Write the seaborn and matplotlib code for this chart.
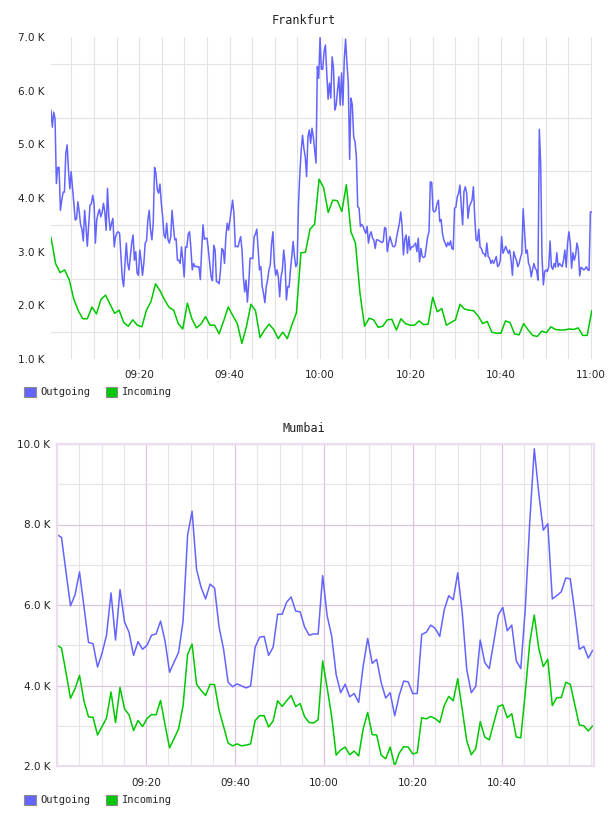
import numpy as np
import pandas as pd
import matplotlib
matplotlib.use("Agg")
import matplotlib.pyplot as plt
import matplotlib.dates as mdates
from matplotlib.patches import Patch
from matplotlib.ticker import MultipleLocator, FuncFormatter, FixedLocator
import seaborn as sns

sns.set_theme(style="white")
plt.rcParams['font.family'] = ['DejaVu Sans']

DAY = "2013-05-14"
series_names = ["Outgoing", "Incoming"]

# ---------------- Frankfurt (values in thousands) ----------------
fra_outgoing = [
    5.64, 5.32, 5.60, 5.48, 4.27, 4.57, 4.57, 3.77,
    3.96, 4.11, 4.11, 4.83,
    4.99, 4.52, 4.17, 4.49, 4.18, 3.90, 3.59, 3.61, 3.93, 3.74, 3.50, 3.42, 3.20, 3.77, 3.47, 3.10,
    3.50, 3.87, 3.89, 4.05, 3.90, 3.16, 3.59, 3.71, 3.79, 3.65, 3.73, 3.90, 3.74, 3.40, 4.18, 3.65,
    3.40, 3.53, 3.62, 3.09, 3.28, 3.35, 3.37, 3.34, 2.91, 2.50, 2.35, 2.78, 3.16, 2.78, 2.66, 2.91,
    3.16, 3.31, 2.84, 3.00, 2.60, 2.56, 3.03, 2.84, 2.56, 2.78, 3.16, 3.20, 3.59, 3.77, 3.40, 3.22,
    3.53, 4.57, 4.46, 4.15, 4.09, 4.26, 3.90, 3.65, 3.31, 3.25, 3.53, 3.22, 3.16, 3.28, 3.77, 3.47,
    3.22, 3.24, 2.84, 2.84, 2.78, 3.09, 2.84, 2.53, 3.09, 3.08, 3.33, 3.37, 3.06, 2.66, 2.78, 2.72,
    2.73, 2.71, 2.72, 2.48, 3.03, 3.50, 3.23, 3.25, 3.25, 3.03, 2.78, 2.53, 2.46, 3.12, 3.03, 2.44,
    2.44, 2.40, 2.66, 3.06, 3.03, 2.78, 3.28, 3.53, 3.40, 3.59, 3.77, 3.96, 3.71, 3.09, 3.10, 3.09,
    3.19, 3.28, 3.03, 2.53, 2.25, 2.47, 2.06, 2.41, 2.88, 2.88, 2.87, 3.28, 3.33, 3.42, 3.03, 2.66,
    2.72, 2.35, 2.22, 2.05, 2.35, 2.47, 2.66, 2.75, 3.16, 3.37, 2.78, 2.56, 2.66, 2.53, 2.16, 2.53,
    2.66, 3.03, 2.78, 2.10, 2.35, 2.34, 2.66, 2.91, 3.19, 2.91, 2.72, 2.78, 3.90, 4.46, 4.89, 5.17,
    4.92, 4.77, 4.40, 5.14, 5.27, 5.02, 5.30, 5.14, 4.89, 4.65,
    6.45, 6.23, 6.99, 6.40, 6.40, 6.73, 6.85, 6.32, 5.84, 6.14, 5.86, 6.63, 6.42, 5.64, 5.73, 6.01,
    6.26, 5.73, 6.33, 5.73, 6.57, 6.96, 6.51, 6.14, 4.72, 5.86, 5.73, 5.14, 5.05, 4.77, 3.84, 3.81,
    3.47, 3.51, 3.47,
    3.40, 3.34, 3.47, 3.16, 3.31, 3.37, 3.25, 3.22, 3.06, 3.22, 3.22, 3.20, 3.19, 3.17, 3.19, 3.45,
    3.43, 3.00, 3.16, 3.28, 3.19, 3.10, 3.09, 3.12, 3.28, 3.40, 3.53, 3.74, 3.47, 2.94, 3.23, 3.31,
    2.97, 3.28, 3.03, 3.09, 3.09, 3.12, 3.16, 3.00, 3.25, 2.81, 3.06, 2.91, 2.89, 2.91, 3.09, 3.28,
    3.37, 4.30, 4.29, 3.77, 3.74, 3.77, 3.90, 3.96, 3.56, 3.60, 3.34, 3.22, 3.16, 3.09, 3.17, 3.12,
    3.20, 3.06, 3.04, 3.81, 3.83, 4.02, 4.09, 4.24, 3.84, 3.50, 4.12, 4.21, 4.09, 3.62, 3.84, 3.90,
    3.96, 4.21, 3.65, 3.22, 3.20, 3.42, 3.08, 3.06, 2.97, 2.96, 2.91, 3.16, 2.91, 2.88, 2.78, 2.84,
    2.78, 2.84, 2.91, 2.72, 2.75, 2.84, 3.28, 2.97, 3.03, 3.10, 3.03, 2.97, 3.03, 2.84, 2.56, 3.00,
    2.91, 2.84, 2.72, 2.78, 2.89, 2.97, 3.80, 3.40, 2.97, 3.03, 2.78, 2.72, 2.53, 2.67, 2.78, 2.69,
    2.65,
    2.47, 5.28, 4.65, 2.91, 2.38, 2.63, 2.66, 2.63, 2.72, 3.20, 2.72, 2.67, 2.78, 2.71, 2.98, 2.72,
    2.78, 2.75, 2.72, 2.84, 3.03, 2.71, 3.16, 3.37, 3.16, 2.69, 2.98, 2.84, 2.94, 3.16, 3.03, 2.55,
    2.71, 2.69, 2.66, 2.68, 2.72, 2.66, 2.65, 3.74, 3.74,
]
fra_incoming = [
    3.27, 2.78, 2.61, 2.66, 2.48, 2.12, 1.90, 1.75, 1.75, 1.97, 1.84, 2.11, 2.19, 2.02, 1.85, 1.91,
    1.68, 1.61, 1.73, 1.63, 1.60, 1.91, 2.07, 2.40, 2.27, 2.10, 1.96, 1.91, 1.66, 1.56, 2.04, 1.75,
    1.58, 1.65, 1.79, 1.63, 1.63, 1.47, 1.71, 1.97, 1.81, 1.66, 1.29, 1.60, 2.02, 1.90, 1.40, 1.54,
    1.65, 1.55, 1.38, 1.50, 1.38, 1.63, 1.86, 2.98, 2.99, 3.42, 3.51, 4.35, 4.19,
    3.73, 3.96, 3.95, 3.75, 4.25, 3.37, 3.16, 2.22, 1.61, 1.76, 1.73, 1.59, 1.61, 1.73, 1.74, 1.54,
    1.75, 1.66, 1.63, 1.63, 1.71, 1.64, 1.65, 2.15, 1.88, 1.94, 1.63, 1.68, 1.73, 2.02, 1.93, 1.91,
    1.90, 1.80, 1.66, 1.70, 1.50, 1.48, 1.48, 1.71, 1.68, 1.47, 1.45, 1.66, 1.54, 1.44, 1.42, 1.52,
    1.49, 1.60, 1.55, 1.54, 1.54, 1.56, 1.55, 1.58, 1.44, 1.44, 1.90,
]

# ---------------- Mumbai (values in thousands) ----------------
mum_outgoing = [
    7.75, 7.68, 6.82, 5.98, 6.25, 6.82, 5.95, 5.07, 5.04, 4.46,
    4.80, 5.25, 6.30, 5.13, 6.38, 5.58, 5.32, 4.75, 5.09, 4.90,
    5.00, 5.25, 5.28, 5.60, 5.10, 4.33, 4.58, 4.82, 5.60, 7.73,
    8.33, 6.88, 6.44, 6.15, 6.52, 6.42, 5.45, 4.90, 4.08, 3.97,
    4.04, 3.99, 3.94, 3.99, 4.95, 5.20, 5.22, 4.75, 4.95, 5.77,
    5.77, 6.07, 6.20, 5.85, 5.83, 5.45, 5.25, 5.28, 5.28, 6.73,
    5.73, 5.23, 4.27, 3.82, 4.03, 3.72, 3.80, 3.58, 4.48, 5.17,
    4.55, 4.65, 4.07, 3.69, 3.82, 3.25, 3.75, 4.11, 4.09, 3.80,
    3.80, 5.27, 5.32, 5.50, 5.42, 5.22, 5.88, 6.23, 6.13, 6.80,
    5.82, 4.40, 3.82, 3.98, 5.13, 4.57, 4.42, 5.08, 5.75, 5.94,
    5.36, 5.50, 4.61, 4.42, 5.90, 8.07, 9.88, 8.77, 7.86, 8.02,
    6.15, 6.23, 6.33, 6.67, 6.65, 5.82, 4.90, 4.97, 4.68, 4.88,
]
mum_incoming = [
    5.00, 4.93, 4.32, 3.68, 3.92, 4.25, 3.61, 3.22, 3.21, 2.77,
    2.98, 3.19, 3.84, 3.08, 3.95, 3.42, 3.27, 2.88, 3.13, 2.98,
    3.18, 3.28, 3.27, 3.63, 3.02, 2.45, 2.68, 2.92, 3.50, 4.77,
    5.03, 4.03, 3.88, 3.75, 4.03, 4.02, 3.38, 2.98, 2.57, 2.50,
    2.55, 2.50, 2.52, 2.55, 3.13, 3.25, 3.25, 2.97, 3.12, 3.62,
    3.48, 3.62, 3.75, 3.48, 3.55, 3.22, 3.08, 3.07, 3.15, 4.61,
    3.94, 3.23, 2.27, 2.40, 2.47, 2.28, 2.37, 2.25, 2.92, 3.33,
    2.78, 2.77, 2.27, 2.18, 2.47, 2.00, 2.32, 2.48, 2.47, 2.30,
    2.33, 3.20, 3.17, 3.23, 3.18, 3.08, 3.50, 3.73, 3.62, 4.17,
    3.40, 2.63, 2.28, 2.43, 3.10, 2.72, 2.65, 3.07, 3.48, 3.52,
    3.20, 3.30, 2.72, 2.70, 3.82, 5.07, 5.75, 4.92, 4.47, 4.65,
    3.50, 3.70, 3.70, 4.08, 4.03, 3.52, 3.02, 3.00, 2.87, 3.00,
]

fra_tick_labels = ["09:20", "09:40", "10:00", "10:20", "10:40", "11:00"]
mum_tick_labels = ["09:20", "09:40", "10:00", "10:20", "10:40"]

OUT_COLOR = "#6464ff"
IN_COLOR = "#00c800"
palette = {"Outgoing": OUT_COLOR, "Incoming": IN_COLOR}


def ts(t):
    return pd.Timestamp(f"{DAY} {t}")


def long_frame(out_vals, in_vals, start, end):
    frames = []
    for name, vals in (("Outgoing", out_vals), ("Incoming", in_vals)):
        times = pd.date_range(ts(start), ts(end), periods=len(vals))
        frames.append(pd.DataFrame({"time": times, "value": vals, "series": name}))
    return pd.concat(frames, ignore_index=True)


fig = plt.figure(figsize=(6.08, 8.16), dpi=100)
W, H = 608.0, 816.0
ax1 = fig.add_axes([51 / W, (H - 359) / H, 541 / W, 322 / H])
ax2 = fig.add_axes([57 / W, (H - 766) / H, 537 / W, 322 / H])

kfmt = FuncFormatter(lambda v, p: f"{v:.1f} K")
mono = {"family": "DejaVu Sans Mono"}

# ---- Frankfurt ----
df1 = long_frame(fra_outgoing, fra_incoming, "09:00:30", "11:00:10")
sns.lineplot(data=df1, x="time", y="value", hue="series", palette=palette,
             estimator=None, linewidth=1.1, legend=False, ax=ax1)
ax1.set_xlim(ts("09:00:30"), ts("11:00:13"))
ax1.set_ylim(1.0, 7.0)
ax1.xaxis.set_major_locator(FixedLocator([mdates.date2num(ts(t)) for t in fra_tick_labels]))
ax1.xaxis.set_major_formatter(mdates.DateFormatter("%H:%M"))
ax1.xaxis.set_minor_locator(mdates.MinuteLocator(byminute=range(0, 60, 5)))
ax1.yaxis.set_major_locator(MultipleLocator(1.0))
ax1.yaxis.set_minor_locator(MultipleLocator(0.5))
ax1.yaxis.set_major_formatter(kfmt)
ax1.grid(True, which="both", axis="x", color="#e3e3e3", linewidth=0.8)
ax1.grid(True, which="minor", axis="y", color="#e3e3e3", linewidth=0.8)
ax1.grid(False, which="major", axis="y")
for s in ax1.spines.values():
    s.set_visible(False)
ax1.tick_params(axis="y", which="both", length=0, pad=5, labelsize=7.5, labelcolor="#222222")
ax1.tick_params(axis="x", which="both", length=0, pad=8, labelsize=7.5, labelcolor="#222222")

# ---- Mumbai ----
df2 = long_frame(mum_outgoing, mum_incoming, "09:00:00", "11:00:24")
sns.lineplot(data=df2, x="time", y="value", hue="series", palette=palette,
             estimator=None, linewidth=1.1, legend=False, ax=ax2)
ax2.set_xlim(ts("09:00:00"), ts("11:00:40"))
ax2.set_ylim(2.0, 10.0)
ax2.xaxis.set_major_locator(FixedLocator([mdates.date2num(ts(t)) for t in mum_tick_labels]))
ax2.xaxis.set_major_formatter(mdates.DateFormatter("%H:%M"))
ax2.xaxis.set_minor_locator(mdates.MinuteLocator(byminute=range(0, 60, 5)))
ax2.yaxis.set_major_locator(MultipleLocator(2.0))
ax2.yaxis.set_minor_locator(MultipleLocator(1.0))
ax2.yaxis.set_major_formatter(kfmt)
ax2.grid(True, which="major", color="#dcc6dc", linewidth=0.9)
ax2.grid(True, which="minor", color="#e9e3e9", linewidth=0.8)
for s in ax2.spines.values():
    s.set_visible(True)
    s.set_color("#ecdcf0")
    s.set_linewidth(1.6)
ax2.tick_params(axis="y", which="both", length=0, pad=5, labelsize=7.5, labelcolor="#222222")
ax2.tick_params(axis="x", which="both", length=0, pad=9, labelsize=7.5, labelcolor="#222222")

for ax in (ax1, ax2):
    ax.set_axisbelow(True)
    ax.set_xlabel("")
    ax.set_ylabel("")
    ax.set_facecolor("white")

# ---- titles ----
fig.text(304 / W, 1 - 20 / H, "Frankfurt", ha="center", va="center", fontsize=8.5,
         color="#222222", **mono)
fig.text(304 / W, 1 - 429 / H, "Mumbai", ha="center", va="center", fontsize=8.5,
         color="#222222", **mono)

# ---- legends ----
for ycen in (392, 800):
    handles = [Patch(facecolor=palette[n], edgecolor="#8c8c8c", linewidth=0.8) for n in series_names]
    fig.legend(handles, series_names, loc="center left",
               bbox_to_anchor=(20 / W, 1 - ycen / H), ncol=2, frameon=False,
               handlelength=1.1, handleheight=1.1, handletextpad=0.45,
               columnspacing=1.5, borderaxespad=0, borderpad=0.4,
               prop={"family": "DejaVu Sans Mono", "size": 7.5})

fig.savefig("out.png", dpi=100, facecolor="white")
